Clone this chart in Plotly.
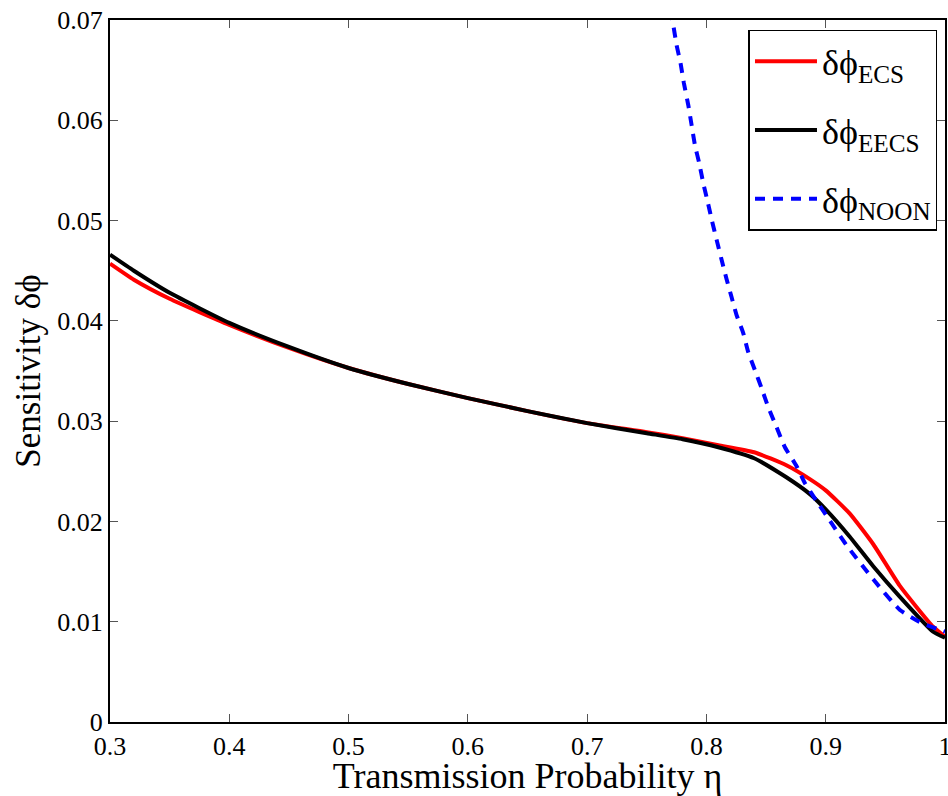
import plotly.graph_objects as go

# Transmission probability grid for the ECS / EECS curves
eta = [0.30, 0.32, 0.35, 0.40, 0.45, 0.50, 0.55, 0.60, 0.65, 0.70, 0.75,
       0.78, 0.81, 0.84, 0.867, 0.887, 0.90, 0.92, 0.94, 0.962, 0.99, 1.00]
ecs = [0.0457, 0.0441, 0.0422, 0.0396, 0.0373, 0.0353, 0.0337, 0.0323, 0.0310,
       0.0298, 0.0289, 0.0283, 0.0276, 0.0269, 0.0256, 0.0242, 0.0231, 0.0208,
       0.0177, 0.0136, 0.0095, 0.0085]
eecs = [0.0466, 0.0450, 0.0428, 0.0398, 0.0374, 0.0353, 0.0337, 0.0323, 0.0310,
        0.0298, 0.0288, 0.0282, 0.0274, 0.0263, 0.0244, 0.0227, 0.0212, 0.0185,
        0.0155, 0.0125, 0.0090, 0.0084]

# NOON state sensitivity (diverges for low transmission)
eta_noon = [0.770, 0.7722, 0.775, 0.7783, 0.7811, 0.7848, 0.7876, 0.7904, 0.794,
            0.7974, 0.801, 0.8048, 0.8085, 0.8125, 0.8168, 0.821, 0.8252, 0.8308,
            0.835, 0.8406, 0.8462, 0.8518, 0.8588, 0.8658, 0.8756, 0.8826, 0.892,
            0.905, 0.917, 0.940, 0.962, 0.980, 0.993, 1.000]
noon = [0.0710, 0.0695, 0.0675, 0.0657, 0.0637, 0.0615, 0.0595, 0.0575, 0.0557,
        0.0537, 0.0519, 0.0499, 0.0481, 0.0462, 0.0442, 0.0424, 0.0406, 0.0388,
        0.0369, 0.0351, 0.0333, 0.0314, 0.0294, 0.0274, 0.0255, 0.0238, 0.0221,
        0.0198, 0.0177, 0.0142, 0.0112, 0.0099, 0.0093, 0.0090]

x_ticks = [0.3, 0.4, 0.5, 0.6, 0.7, 0.8, 0.9, 1.0]
x_labels = ["0.3", "0.4", "0.5", "0.6", "0.7", "0.8", "0.9", "1"]
y_ticks = [0, 0.01, 0.02, 0.03, 0.04, 0.05, 0.06, 0.07]
y_labels = ["0", "0.01", "0.02", "0.03", "0.04", "0.05", "0.06", "0.07"]

FONT = "Liberation Serif, Times New Roman, serif"

fig = go.Figure()
fig.add_trace(go.Scatter(x=eta, y=ecs, mode="lines", name="δϕ<sub>ECS</sub>",
                         legendgroup="ecs",
                         line=dict(color="#ff0000", width=4, shape="spline", smoothing=0.5)))
fig.add_trace(go.Scatter(x=eta, y=eecs, mode="lines", name="δϕ<sub>EECS</sub>",
                         legendgroup="eecs",
                         line=dict(color="#000000", width=4, shape="spline", smoothing=0.5)))
fig.add_trace(go.Scatter(x=eta_noon, y=noon, mode="lines", name="δϕ<sub>NOON</sub>",
                         legendgroup="noon",
                         line=dict(color="#0000ff", width=4, dash="10px,8px",
                                   shape="spline", smoothing=0.5)))

axis_common = dict(showline=True, linecolor="black", linewidth=2, mirror="ticks",
                   ticks="inside", ticklen=8, tickcolor="#555555", tickwidth=1,
                   showgrid=False, zeroline=False, ticklabeloverflow="allow",
                   automargin=False,
                   tickfont=dict(family=FONT, size=26, color="black"))

fig.update_layout(
    width=948, height=796,
    margin=dict(l=110, r=3, t=20, b=74),
    paper_bgcolor="white", plot_bgcolor="white",
    font=dict(family=FONT, color="black"),
    xaxis=dict(range=[0.3, 1.0], tickvals=x_ticks, ticktext=x_labels,
               title=dict(text="Transmission Probability η", font=dict(size=36), standoff=6),
               **axis_common),
    yaxis=dict(range=[0, 0.07], tickvals=y_ticks, ticktext=y_labels,
               title=dict(text="Sensitivity δϕ", font=dict(size=35), standoff=6),
               **axis_common),
    legend=dict(x=0.991, y=0.986, xanchor="right", yanchor="top",
                bordercolor="black", borderwidth=1.5, bgcolor="white",
                font=dict(family=FONT, size=36), itemwidth=62,
                tracegroupgap=19),
    showlegend=True,
)

fig.write_html("out.html")
